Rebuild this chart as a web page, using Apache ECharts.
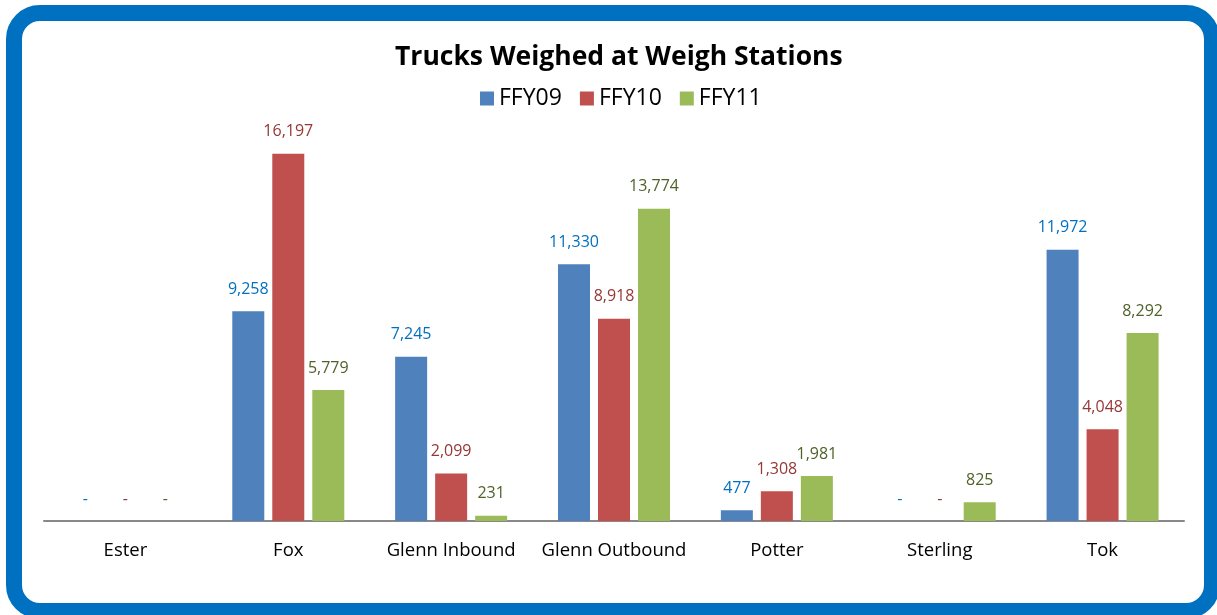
<!DOCTYPE html>
<html>
<head>
<meta charset="utf-8">
<script src="https://cdn.jsdelivr.net/npm/echarts@6/dist/echarts.min.js"></script>
<style>
  html, body { margin: 0; padding: 0; background: #fff; }
  #frame {
    position: absolute; left: 6px; top: 5px;
    width: 1182px; height: 582px;
    border: 16px solid #0070c0; border-radius: 34px;
  }
  #chart { position: absolute; left: 0; top: 0; width: 1217px; height: 615px; }
</style>
</head>
<body>
<div id="frame"></div>
<div id="chart"></div>
<script>
var stations = ['Ester', 'Fox', 'Glenn Inbound', 'Glenn Outbound', 'Potter', 'Sterling', 'Tok'];
var ffy09 = [0, 9258, 7245, 11330, 477, 0, 11972];
var ffy10 = [0, 16197, 2099, 8918, 1308, 0, 4048];
var ffy11 = [0, 5779, 231, 13774, 1981, 825, 8292];

var chart = echarts.init(document.getElementById('chart'));

function makeSeries(name, data, color, labelColor) {
  return {
    name: name,
    type: 'bar',
    data: data,
    barWidth: 32,
    barGap: '25%',
    itemStyle: { color: color },
    label: {
      show: true,
      position: 'top',
      distance: 14,
      color: labelColor,
      fontSize: 16,
      fontFamily: 'Open Sans',
      formatter: function(p) {
        return p.value === 0 ? '-' : p.value.toLocaleString('en-US');
      }
    }
  };
}

var option = {
  animation: false,
  title: {
    text: 'Trucks Weighed at Weigh Stations',
    left: 390,
    top: 39,
    textStyle: { fontFamily: 'Open Sans', fontWeight: 'bold', fontSize: 26.5, color: '#000' }
  },
  legend: {
    top: 82,
    left: 475,
    itemWidth: 14,
    itemHeight: 14,
    itemGap: 18,
    icon: 'rect',
    textStyle: { fontFamily: 'Open Sans', fontSize: 23, color: '#000' },
    data: ['FFY09', 'FFY10', 'FFY11']
  },
  grid: { left: 44, right: 33, top: 113, bottom: 94 },
  xAxis: {
    type: 'category',
    data: stations,
    axisLine: { lineStyle: { color: '#888', width: 2 } },
    axisTick: { show: false },
    axisLabel: { interval: 0, color: '#000', fontSize: 18.5, fontFamily: 'Open Sans', margin: 20 }
  },
  yAxis: {
    type: 'value',
    min: 0,
    max: 18000,
    show: false,
    splitLine: { show: false }
  },
  series: [
    makeSeries('FFY09', ffy09, '#4f81bd', '#0070c0'),
    makeSeries('FFY10', ffy10, '#c0504d', '#953735'),
    makeSeries('FFY11', ffy11, '#9bbb59', '#4f6228')
  ]
};

chart.setOption(option);
</script>
</body>
</html>
